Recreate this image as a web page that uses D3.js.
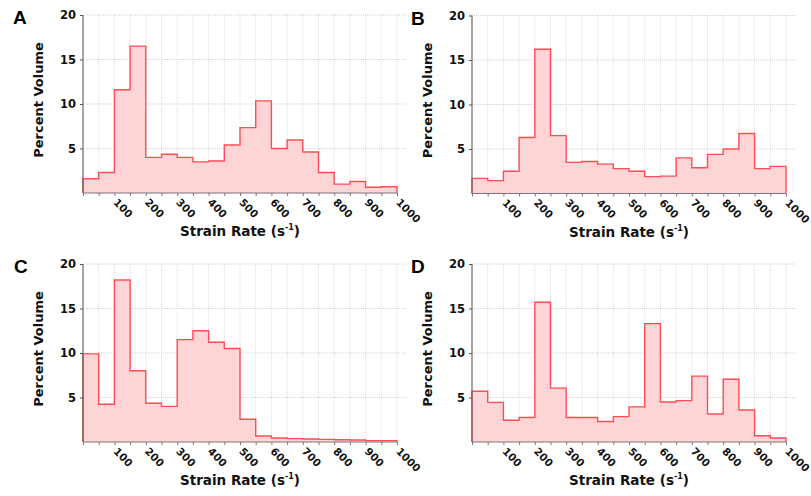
<!DOCTYPE html>
<html>
<head>
<meta charset="utf-8">
<script src="https://cdn.jsdelivr.net/npm/d3@7"></script>
<style>
  body { margin: 0; background: #fff; }
  .tick text { font-family: Verdana, "DejaVu Sans", sans-serif; font-weight: bold; }
</style>
</head>
<body>
<svg id="chart" width="811" height="496"></svg>
<script>
// bin edges of the histogram (s-1)
const binStarts = [0, 50, 100, 150, 200, 250, 300, 350, 400, 450, 500, 550, 600, 650, 700, 750, 800, 850, 900, 950]
const binWidth = 50
const xTicks = [100, 200, 300, 400, 500, 600, 700, 800, 900, 1000]
const yTicks = [5, 10, 15, 20]

// percent volume per bin, one list per panel
const valuesA = [1.6, 2.3, 11.6, 16.5, 4.0, 4.35, 4.0, 3.5, 3.6, 5.4, 7.35, 10.35, 5.0, 5.95, 4.6, 2.3, 1.0, 1.3, 0.65, 0.7]
const valuesB = [1.7, 1.45, 2.5, 6.3, 16.2, 6.5, 3.5, 3.6, 3.3, 2.8, 2.5, 1.9, 1.95, 4.0, 2.9, 4.4, 5.0, 6.75, 2.8, 3.05]
const valuesC = [9.9, 4.25, 18.2, 8.0, 4.35, 4.0, 11.5, 12.5, 11.2, 10.5, 2.55, 0.68, 0.45, 0.38, 0.34, 0.3, 0.26, 0.22, 0.16, 0.15]
const valuesD = [5.7, 4.45, 2.45, 2.75, 15.7, 6.05, 2.75, 2.75, 2.3, 2.85, 3.95, 13.3, 4.5, 4.65, 7.4, 3.15, 7.05, 3.6, 0.7, 0.45]

const panels = [
  { letter: "A", values: valuesA, left: 83, top: 15, letterX: 13 },
  { letter: "B", values: valuesB, left: 472, top: 15.5, letterX: 411 },
  { letter: "C", values: valuesC, left: 83, top: 264, letterX: 14 },
  { letter: "D", values: valuesD, left: 472, top: 264, letterX: 411 }
]

const plotW = 314
const plotH = 178

const svg = d3.select("#chart")

panels.forEach(p => drawPanel(p))

function drawPanel(p) {
  const g = svg.append("g").attr("transform", "translate(" + p.left + "," + p.top + ")")

  const xScale = d3.scaleLinear().domain([0, 1000]).range([0, plotW])
  const yScale = d3.scaleLinear().domain([0, 20]).range([plotH, 0])

  // grid
  g.append("g")
    .selectAll("line")
    .data(binStarts.concat([1000]))
    .join("line")
    .attr("x1", d => xScale(d)).attr("x2", d => xScale(d))
    .attr("y1", 0).attr("y2", plotH)
    .attr("stroke", "#d9d9d9")
    .attr("stroke-width", 1)
    .attr("stroke-dasharray", "1,1")

  g.append("g")
    .selectAll("line")
    .data(yTicks)
    .join("line")
    .attr("x1", 0).attr("x2", plotW + 10)
    .attr("y1", d => yScale(d)).attr("y2", d => yScale(d))
    .attr("stroke", "#d3d3d3")
    .attr("stroke-width", 1)
    .attr("stroke-dasharray", "1,1")

  // histogram outline as a step area
  const pts = []
  p.values.forEach((v, i) => {
    pts.push([binStarts[i], v])
    pts.push([binStarts[i] + binWidth, v])
  })
  pts.unshift([0, 0])
  pts.push([1000, 0])

  const line = d3.line().x(d => xScale(d[0])).y(d => yScale(d[1]))

  g.append("path")
    .attr("d", line(pts) + "Z")
    .attr("fill", "#fdd5d7")
    .attr("stroke", "none")

  g.append("path")
    .attr("d", line(pts))
    .attr("fill", "none")
    .attr("stroke", "#ff4d55")
    .attr("stroke-width", 1.4)

  // axes
  const axisLeft = d3.axisLeft(yScale).tickValues(yTicks).tickSize(3).tickPadding(4)
  const yAxis = g.append("g").call(axisLeft)
  yAxis.select(".domain").attr("stroke", "#555").attr("d", "M0," + plotH + "V0")
  yAxis.selectAll(".tick line").attr("stroke", "#555")
  yAxis.selectAll(".tick text").attr("font-size", 11.5).attr("fill", "#111")

  const axisBottom = d3.axisBottom(xScale).tickValues(binStarts.concat([1000])).tickSize(3)
    .tickFormat(d => xTicks.includes(d) ? d : "")
  const xAxis = g.append("g").attr("transform", "translate(0," + plotH + ")").call(axisBottom)
  xAxis.select(".domain").attr("stroke", "#777").attr("d", "M0,0H" + plotW)
  xAxis.selectAll(".tick line").attr("stroke", "#777")
  xAxis.selectAll(".tick text")
    .attr("font-size", 10.5)
    .attr("fill", "#111")
    .attr("text-anchor", "start")
    .attr("dy", null)
    .attr("y", 0)
    .attr("transform", "translate(0,8) rotate(45)")
    .attr("dominant-baseline", "middle")

  // axis titles
  g.append("text")
    .attr("transform", "translate(" + (-40) + "," + (plotH / 2 - 4) + ") rotate(-90)")
    .attr("text-anchor", "middle")
    .attr("font-family", "Verdana, 'DejaVu Sans', sans-serif")
    .attr("font-weight", "bold")
    .attr("font-size", 13)
    .attr("fill", "#111")
    .text("Percent Volume")

  const xl = g.append("text")
    .attr("x", 157)
    .attr("y", plotH + 43)
    .attr("text-anchor", "middle")
    .attr("font-family", "Verdana, 'DejaVu Sans', sans-serif")
    .attr("font-weight", "bold")
    .attr("font-size", 13.5)
    .attr("fill", "#111")
  xl.append("tspan").text("Strain Rate (s")
  xl.append("tspan").attr("font-size", 8).attr("dy", -6).text("-1")
  xl.append("tspan").attr("dy", 6).text(")")

  // panel letter
  svg.append("text")
    .attr("x", p.letterX)
    .attr("y", p.top + 9)
    .attr("font-family", "'Liberation Sans', Arial, sans-serif")
    .attr("font-weight", "bold")
    .attr("font-size", 19)
    .attr("fill", "#000")
    .text(p.letter)
}
</script>
</body>
</html>
